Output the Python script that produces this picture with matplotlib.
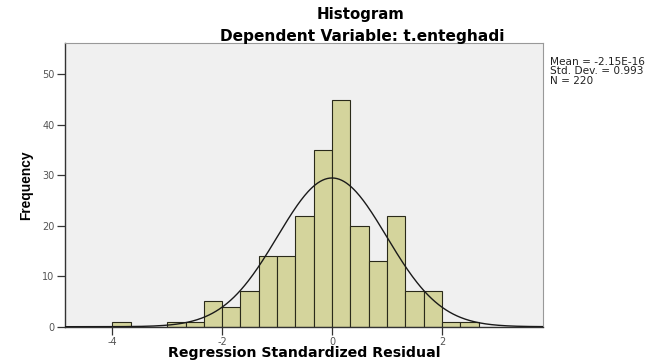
import numpy as np
import matplotlib
matplotlib.use("Agg")
import matplotlib.pyplot as plt

# Data
bin_edges = [k / 3 for k in range(-12, 9)]  # -4 .. 2.667
counts = [1, 0, 0, 1, 1, 5, 4, 7, 14, 14, 22, 35, 45, 20, 13, 22, 7, 7, 1, 1]
mean = -2.15e-16
sd = 0.993
n = 220
x_ticks = [-4, -2, 0, 2]
y_ticks = [0, 10, 20, 30, 40, 50]
title1 = "Histogram"
title2 = "Dependent Variable: t.enteghadi"
xlabel = "Regression Standardized Residual"
ylabel = "Frequency"
stats_lines = ["Mean = -2.15E-16", "Std. Dev. = 0.993", "N = 220"]

plt.rcParams['font.family'] = ['DejaVu Sans']

W, H = 664, 364
fig = plt.figure(figsize=(W/100, H/100), dpi=100)
fig.patch.set_facecolor('white')
ax = fig.add_axes([65/W, 1-326.7/H, (543-65)/W, (326.7-43)/H])
ax.set_facecolor('#f0f0f0')

edges = np.array(bin_edges)
lefts = edges[:-1]
widths = np.diff(edges)
ax.bar(lefts, counts, width=widths, align='edge', color='#d4d49c',
       edgecolor='#2a2a1a', linewidth=0.8, zorder=2)

xmin, xmax = -4.86, 3.84
xs = np.linspace(xmin, xmax, 400)
bw = edges[1] - edges[0]
ys = n * bw / (sd * np.sqrt(2*np.pi)) * np.exp(-0.5*((xs-mean)/sd)**2)
ax.plot(xs, ys, color='#1a1a1a', linewidth=1.0, zorder=3)

ax.set_xlim(xmin, xmax)
ax.set_ylim(0, 56.2)
ax.set_xticks(x_ticks)
ax.set_xticklabels([str(t) for t in x_ticks])
ax.set_yticks(y_ticks)
ax.tick_params(axis='both', labelsize=7, labelcolor='#555555', length=6,
               width=0.9, color='#333333', pad=1.5)
for s in ['top', 'right']:
    ax.spines[s].set_color('#999999')
    ax.spines[s].set_linewidth(0.8)
for s in ['left', 'bottom']:
    ax.spines[s].set_color('#333333')
    ax.spines[s].set_linewidth(1.0)

fig.text(361/W, 1-14/H, title1, ha='center', va='center', fontsize=10.8, fontweight='bold')
fig.text(362/W, 1-36/H, title2, ha='center', va='center', fontsize=11.1, fontweight='bold')
fig.text(304/W, 1-353/H, xlabel, ha='center', va='center', fontsize=10.2, fontweight='bold')
fig.text(26/W, 1-185/H, ylabel, ha='center', va='center', fontsize=9.9,
         fontweight='bold', rotation=90,
         family=['Liberation Sans Narrow', 'Liberation Sans', 'DejaVu Sans'])
fig.text(550/W, 1-57/H, "\n".join(stats_lines), ha='left', va='top',
         fontsize=7.6, color='#222222', linespacing=0.92)

fig.savefig('out.png', dpi=100)
